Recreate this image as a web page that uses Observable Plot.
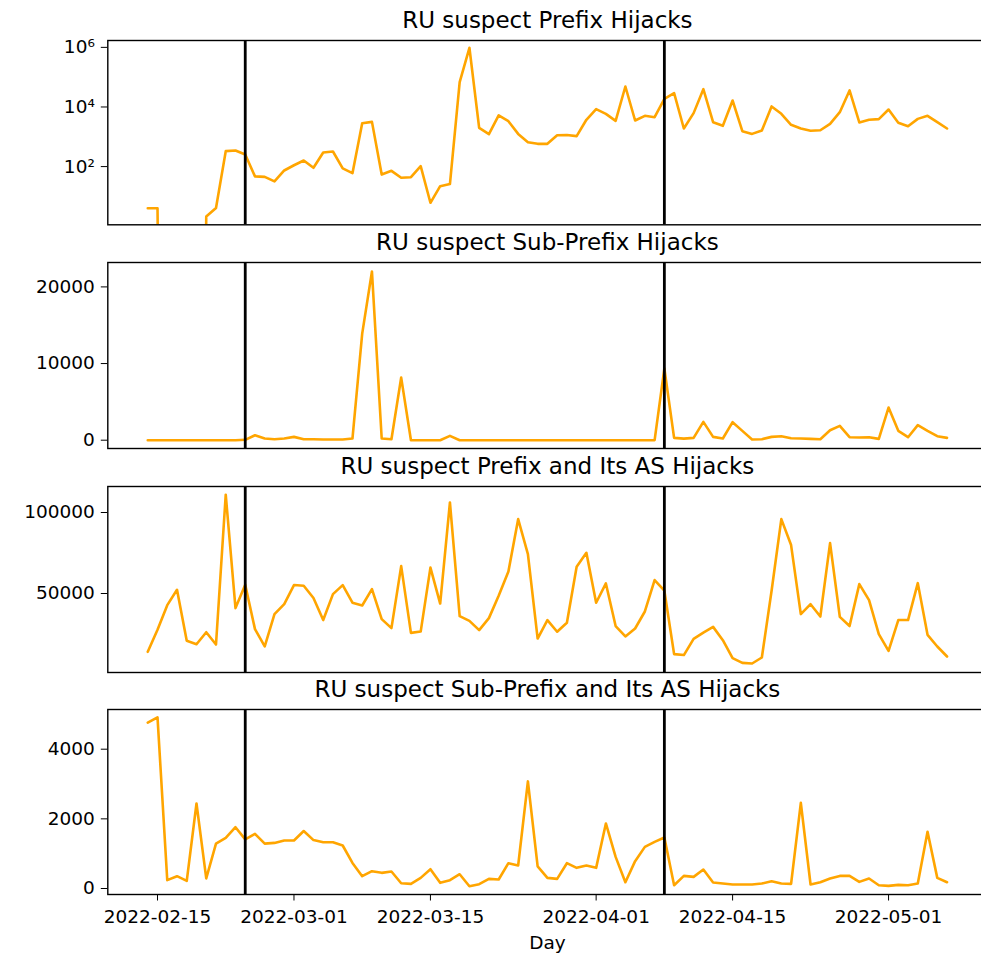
<!DOCTYPE html>
<html>
<head>
<meta charset="utf-8">
<script src="https://cdn.jsdelivr.net/npm/d3@7"></script>
<script src="https://cdn.jsdelivr.net/npm/@observablehq/plot@0.6"></script>
<style>
  html, body { margin: 0; padding: 0; background: white; overflow: hidden; }
  #wrap { position: relative; width: 981px; height: 953px; background: white; }
  #wrap svg { position: absolute; left: 0; }
</style>
</head>
<body>
<div id="wrap"></div>
<script>
// ---- data ----
const startDay = "2022-02-14";
const endDay = "2022-05-07";
const eventDays = ["2022-02-24", "2022-04-08"];
const xTickDays = ["2022-02-15", "2022-03-01", "2022-03-15", "2022-04-01", "2022-04-15", "2022-05-01"];

const titles = [
  "RU suspect Prefix Hijacks",
  "RU suspect Sub-Prefix Hijacks",
  "RU suspect Prefix and Its AS Hijacks",
  "RU suspect Sub-Prefix and Its AS Hijacks"
];

const prefixHijacks = [4, 4, 0, 0, 0, 0, 2.1, 4.1, 329, 346,
  255, 47, 45, 32, 74, 111, 160, 91, 297, 321,
  87, 60, 2860, 3160, 54, 72, 42, 44, 103, 6.1,
  22, 26, 68000, 969000, 2000, 1220, 5190, 3340, 1250, 659,
  580, 580, 1130, 1150, 1050, 3720, 8430, 5890, 3430, 48700,
  3520, 5050, 4550, 18800, 29000, 1900, 6220, 39600, 3090, 2330,
  16500, 1540, 1250, 1620, 10400, 5890, 2520, 1900, 1590, 1660,
  2720, 6700, 35800, 3020, 3720, 3900, 8220, 2950, 2270, 3990,
  5050, 3090, 1900];

const subPrefixHijacks = [0, 0, 0, 0, 0, 0, 0, 0, 0, 0,
  50, 650, 217, 130, 217, 435, 130, 130, 87, 87,
  87, 217, 13900, 22000, 217, 130, 8170, 0, 0, 0,
  0, 565, 0, 0, 0, 0, 0, 0, 0, 0,
  0, 0, 0, 0, 0, 0, 0, 0, 0, 0,
  0, 0, 0, 9350, 300, 200, 300, 2390, 435, 217,
  2350, 1220, 87, 130, 435, 520, 260, 217, 174, 130,
  1300, 1870, 390, 350, 390, 174, 4260, 1220, 390, 1960,
  1220, 520, 300];

const prefixAsHijacks = [14000, 27600, 42800, 52300, 20800, 18700, 26100, 18500, 111000, 41000,
  55400, 28000, 17300, 37300, 43400, 55200, 54800, 47200, 33600, 49600,
  55200, 44300, 42600, 52700, 34200, 28600, 66900, 25700, 26500, 66000,
  43800, 106200, 36000, 33100, 27400, 34800, 48600, 63600, 95900, 74300,
  22200, 33600, 26400, 31900, 66500, 75100, 44300, 56200, 29900, 23500,
  28400, 38900, 58300, 51700, 12600, 12000, 22000, 25900, 29400, 21200,
  10100, 7200, 6800, 10500, 51700, 95900, 79900, 37300, 43400, 35800,
  81100, 35600, 29900, 55800, 45900, 24900, 14600, 33600, 33600, 56400,
  24500, 17300, 11100];

const subPrefixAsHijacks = [4760, 4915, 240, 354, 220, 2440, 290, 1290, 1455, 1760,
  1410, 1570, 1290, 1310, 1380, 1380, 1650, 1390, 1330, 1330,
  1235, 735, 354, 497, 450, 488, 152, 132, 305, 555,
  162, 240, 410, 66, 124, 277, 258, 727, 660, 3075,
  635, 305, 277, 727, 593, 660, 593, 1868, 908, 181,
  785, 1196, 1340, 1465, 95, 362, 334, 545, 172, 143,
  115, 115, 115, 143, 210, 143, 132, 2460, 115, 181,
  287, 362, 362, 190, 287, 95, 76, 105, 95, 143,
  1627, 305, 181];

const yTicks = [[1e2, 1e4, 1e6], [0, 10000, 20000], [50000, 100000], [0, 2000, 4000]];
const logLabels = {100: "10²", 10000: "10⁴", 1000000: "10⁶"};

// ---- build ----
const parse = d3.utcParse("%Y-%m-%d");
const days = d3.utcDays(parse(startDay), d3.utcDay.offset(parse(endDay), 1));
const events = eventDays.map(parse);
const xTicks = xTickDays.map(parse);
const fmt = d3.utcFormat("%Y-%m-%d");
const pad = 4.1 * 864e5;
const xDomain = [new Date(+days[0] - pad), new Date(+days[days.length - 1] + pad)];

const series = [prefixHijacks, subPrefixHijacks, prefixAsHijacks, subPrefixAsHijacks];
const frames = [
  {T: 40.0, H: 184.3, domain: [1.114, 1.70e6], log: true},
  {T: 262.3, H: 186.0, domain: [-1083, 23183]},
  {T: 485.7, H: 186.0, domain: [1235, 116050]},
  {T: 709.3, H: 185.0, domain: [-172, 5140]}
];

const wrap = document.getElementById("wrap");
const MT = 40;

series.forEach((vals, k) => {
  const f = frames[k];
  const last = k === 3;
  const MB = last ? 62 : 14;
  const data = vals.map((v, i) => ({date: days[i], v}));
  const chart = Plot.plot({
    width: 981,
    height: f.H + MT + MB,
    marginTop: MT,
    marginBottom: MB,
    marginLeft: 107.3,
    marginRight: -5.5,
    style: {background: "transparent", overflow: "visible", fontFamily: "DejaVu Sans", fontSize: "18.5px", color: "black"},
    x: last ? {type: "utc", domain: xDomain} : {type: "utc", domain: xDomain, axis: null},
    y: f.log ? {type: "log", domain: f.domain} : {type: "linear", domain: f.domain},
    marks: [
      Plot.line(data, {
        x: "date",
        y: f.log ? (d => d.v > 0 ? d.v : 1e-30) : "v",
        stroke: "#FFA500",
        strokeWidth: 2.6,
        clip: true
      }),
      Plot.ruleX(events, {stroke: "black", strokeWidth: 2.8}),
      Plot.frame({stroke: "black", strokeWidth: 1.4}),
      Plot.axisY({
        ticks: yTicks[k],
        tickFormat: f.log ? (d => logLabels[d]) : (d => String(d)),
        tickSize: 6.5,
        tickPadding: 6.5,
        fontSize: 18.5,
        label: null
      }),
      ...(last ? [
        Plot.axisX({
          ticks: xTicks,
          tickFormat: fmt,
          tickSize: 6.5,
          tickPadding: 9,
          fontSize: 18.5,
          label: null
        }),
        Plot.text(["Day"], {frameAnchor: "bottom", dy: 54, lineAnchor: "bottom", fontSize: 18.5, fill: "black"})
      ] : []),
      Plot.text([titles[k]], {frameAnchor: "top", dy: -12.7, lineAnchor: "bottom", fontSize: 23, fill: "black"})
    ]
  });
  chart.style.top = (f.T - MT) + "px";
  wrap.appendChild(chart);
});
</script>
</body>
</html>
